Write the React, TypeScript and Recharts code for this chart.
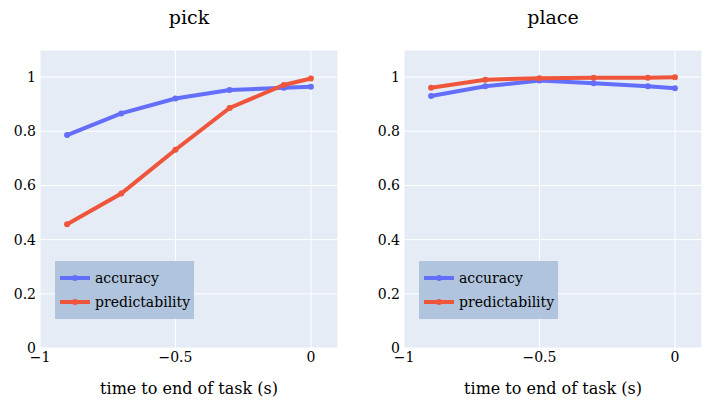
import { CartesianGrid, Label, Line, LineChart, XAxis, YAxis } from "recharts";

const times = [-0.9, -0.7, -0.5, -0.3, -0.1, 0];
const pickAccuracy = [0.786, 0.866, 0.921, 0.952, 0.961, 0.964];
const pickPredictability = [0.457, 0.57, 0.732, 0.886, 0.971, 0.995];
const placeAccuracy = [0.93, 0.966, 0.987, 0.977, 0.966, 0.959];
const placePredictability = [0.961, 0.99, 0.996, 0.998, 0.998, 0.999];
const xTicks = [-1, -0.5, 0];
const yTicks = [0, 0.2, 0.4, 0.6, 0.8, 1];
const seriesNames = ["accuracy", "predictability"];

const FONT = "'DejaVu Serif', serif";
const BLUE = "#636efa";
const RED = "#ef553b";
const colors = [BLUE, RED];

const fmt = (v: number) => String(v).replace("-", "\u2212");

function LegendBox({ left }: { left: number }) {
  return (
    <div style={{ position: "absolute", left, top: 261, background: "#b0c4de", width: 139, height: 58, boxSizing: "border-box", paddingTop: 5, fontFamily: FONT, fontSize: 14, color: "#000" }}>
      {seriesNames.map((name, i) => (
        <div key={name} style={{ display: "flex", alignItems: "center", height: 24 }}>
          <svg width={36} height={10} style={{ marginLeft: 4 }}>
            <line x1={1} y1={5} x2={31} y2={5} stroke={colors[i]} strokeWidth={4} />
            <circle cx={16} cy={5} r={3} fill={colors[i]} />
          </svg>
          <span>{name}</span>
        </div>
      ))}
    </div>
  );
}

function Panel({ title, acc, pred, left, width, marginLeft, marginRight }: {
  title: string; acc: number[]; pred: number[]; left: number; width: number; marginLeft: number; marginRight: number;
}) {
  const data = times.map((t, i) => ({ t, accuracy: acc[i], predictability: pred[i] }));
  const plotLeft = marginLeft + 30;
  const plotW = width - plotLeft - marginRight;
  return (
    <div style={{ position: "absolute", left, top: 0, width, height: 415 }}>
      <div style={{ position: "absolute", left: plotLeft, width: plotW, top: 6, textAlign: "center", fontFamily: FONT, fontSize: 19, color: "#000" }}>{title}</div>
      <LineChart width={width} height={415} data={data} margin={{ top: 50, left: marginLeft, right: marginRight, bottom: 37 }}>
        <CartesianGrid fill="#e5ecf6" stroke="#ffffff" strokeWidth={1} />
        <XAxis dataKey="t" type="number" domain={[-1, 0.1]} ticks={xTicks} tickFormatter={fmt} axisLine={false} tickLine={false} tickSize={0} tickMargin={4} height={30}
          tick={{ fontFamily: FONT, fontSize: 14, fill: "#000" }}>
          <Label value="time to end of task (s)" position="bottom" offset={5} style={{ fontFamily: FONT, fontSize: 16, fill: "#000" }} />
        </XAxis>
        <YAxis type="number" domain={[0, 1.1]} ticks={yTicks} tickFormatter={fmt} axisLine={false} tickLine={false} tickSize={0} tickMargin={4} width={30}
          tick={{ fontFamily: FONT, fontSize: 14, fill: "#000" }} />
        <Line type="linear" dataKey="accuracy" stroke={BLUE} strokeWidth={4} dot={{ r: 3, fill: BLUE, stroke: BLUE, strokeWidth: 0 }} isAnimationActive={false} />
        <Line type="linear" dataKey="predictability" stroke={RED} strokeWidth={4} dot={{ r: 3, fill: RED, stroke: RED, strokeWidth: 0 }} isAnimationActive={false} />
      </LineChart>
      <LegendBox left={plotLeft + 15} />
    </div>
  );
}

export default function App() {
  return (
    <div style={{ position: "absolute", left: 0, top: 0, width: 718, height: 415, background: "#fff" }}>
      <Panel title="pick" acc={pickAccuracy} pred={pickPredictability} left={0} width={360} marginLeft={10} marginRight={22} />
      <Panel title="place" acc={placeAccuracy} pred={placePredictability} left={360} width={358} marginLeft={14} marginRight={16} />
    </div>
  );
}
